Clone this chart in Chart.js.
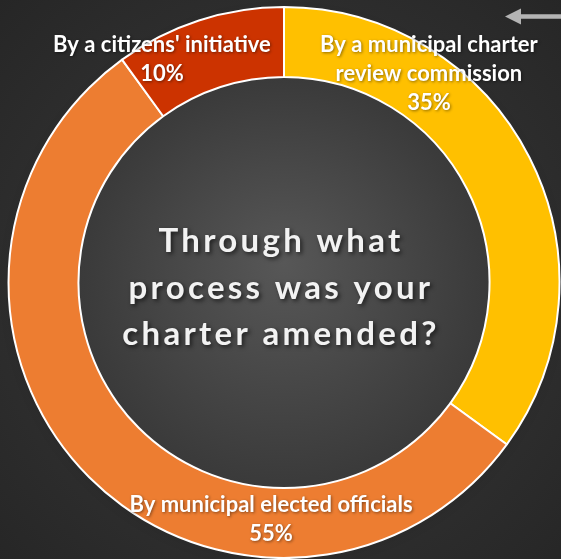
<!DOCTYPE html>
<html>
<head>
<meta charset="utf-8">
<script src="https://cdn.jsdelivr.net/npm/chart.js@4"></script>
<style>
html,body{margin:0;padding:0;background:#2b2b2b;overflow:hidden;}
#wrap{width:561px;height:559px;position:relative;}
</style>
</head>
<body>
<div id="wrap"><canvas id="c" width="561" height="559"></canvas></div>
<script>
const categories = ["By a municipal charter review commission", "By municipal elected officials", "By a citizens' initiative"];
const values = [35, 55, 10];
const labelLines = [["By a municipal charter", "review commission", "35%"], ["By municipal elected officials", "55%"], ["By a citizens' initiative", "10%"]];
const titleLines = ["Through what", "process was your", "charter amended?"];
const colors = ["#FFC000", "#ED7D31", "#CC3300"];

// label placement relative to centre, as fractions of outer radius (x offset, baseline of first line)
const labelPlace = [[0.526, -0.837], [-0.047, 0.833], [-0.443, -0.837]];

const bgPlugin = {
  id: 'bg',
  beforeDraw(chart) {
    const ctx = chart.ctx, w = chart.width, h = chart.height;
    const a = chart.getDatasetMeta(0).data[0];
    ctx.save();
    const g = ctx.createRadialGradient(a.x, a.y, 0, a.x, a.y, 420);
    g.addColorStop(0, '#3c3c3c');
    g.addColorStop(1, '#252525');
    ctx.fillStyle = g;
    ctx.fillRect(0, 0, w, h);
    const ir = a.innerRadius;
    const g2 = ctx.createRadialGradient(a.x, a.y - 20, 0, a.x, a.y, ir);
    g2.addColorStop(0, '#575757');
    g2.addColorStop(1, '#3a3a3a');
    ctx.fillStyle = g2;
    ctx.beginPath();
    ctx.arc(a.x, a.y, ir, 0, Math.PI * 2);
    ctx.fill();
    ctx.shadowColor = 'rgba(0,0,0,0.5)';
    ctx.shadowBlur = 8;
    ctx.shadowOffsetY = 3;
    ctx.strokeStyle = 'rgba(0,0,0,0.3)';
    ctx.lineWidth = 2;
    ctx.beginPath();
    ctx.arc(a.x, a.y, a.outerRadius, 0, Math.PI * 2);
    ctx.stroke();
    ctx.restore();
  }
};

const textPlugin = {
  id: 'texts',
  afterDraw(chart) {
    const ctx = chart.ctx;
    const a = chart.getDatasetMeta(0).data[0];
    const R = a.outerRadius, cx = a.x, cy = a.y;
    ctx.save();
    ctx.textAlign = 'center';
    ctx.textBaseline = 'alphabetic';
    ctx.fillStyle = '#FFFFFF';
    ctx.font = 'bold 22px Lato, "Open Sans", sans-serif';
    ctx.shadowColor = 'rgba(0,0,0,0.45)';
    ctx.shadowBlur = 3;
    ctx.shadowOffsetX = 1;
    ctx.shadowOffsetY = 1;
    labelLines.forEach((lines, i) => {
      const [fx, fy] = labelPlace[i];
      lines.forEach((t, j) => {
        ctx.fillText(t, cx + fx * R, cy + fy * R + j * 29);
      });
    });
    ctx.fillStyle = '#F2F2F2';
    ctx.font = 'bold 33px Lato, "Open Sans", sans-serif';
    ctx.letterSpacing = '3.3px';
    ctx.shadowColor = 'rgba(0,0,0,0.6)';
    ctx.shadowBlur = 4;
    ctx.shadowOffsetX = 2;
    ctx.shadowOffsetY = 2;
    titleLines.forEach((t, j) => {
      ctx.fillText(t, cx - 3, cy - 30.5 + j * 46.5);
    });
    ctx.restore();
    // arrow
    ctx.save();
    ctx.strokeStyle = '#B4B4B4';
    ctx.fillStyle = '#B4B4B4';
    ctx.lineWidth = 4.5;
    ctx.beginPath();
    ctx.moveTo(518, 16.5);
    ctx.lineTo(561, 16.5);
    ctx.stroke();
    ctx.beginPath();
    ctx.moveTo(505, 16.5);
    ctx.lineTo(521, 8.5);
    ctx.lineTo(521, 24.5);
    ctx.closePath();
    ctx.fill();
    ctx.restore();
  }
};

new Chart(document.getElementById('c'), {
  type: 'doughnut',
  data: {
    labels: categories,
    datasets: [{
      data: values,
      backgroundColor: colors,
      borderColor: '#FFFFFF',
      borderWidth: 2,
      hoverOffset: 0
    }]
  },
  options: {
    responsive: false,
    devicePixelRatio: 1,
    animation: false,
    cutout: '74.6%',
    layout: { padding: { left: 7, top: 6, right: -2, bottom: -2 } },
    plugins: { legend: { display: false }, tooltip: { enabled: false } }
  },
  plugins: [bgPlugin, textPlugin]
});
</script>
</body>
</html>
